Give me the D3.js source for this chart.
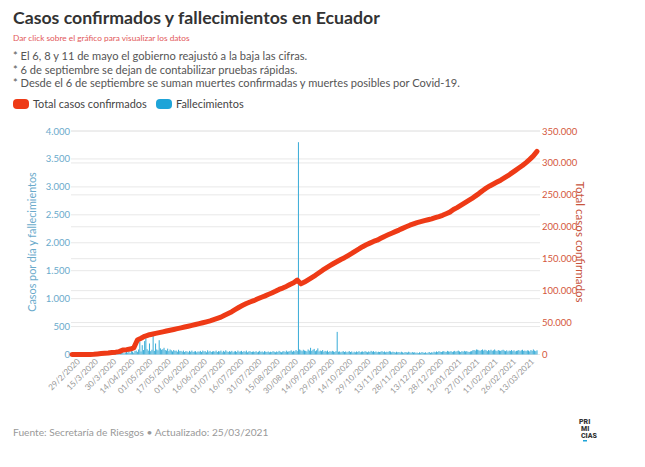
<!DOCTYPE html>
<html><head><meta charset="utf-8">
<script src="https://cdn.jsdelivr.net/npm/d3@7"></script>
<style>
html,body{margin:0;padding:0;background:#fff;}
svg{display:block;font-family:Lato, "Open Sans", sans-serif;}
</style></head>
<body><svg id="c" width="645" height="467"></svg>
<script>
// ---- DATA ----
const tickLabels = ["29/2/2020","15/3/2020","30/3/2020","14/04/2020","01/05/2020","17/05/2020","01/06/2020","16/06/2020","01/07/2020","16/07/2020","31/07/2020","15/08/2020","30/08/2020","14/09/2020","29/09/2020","14/10/2020","29/10/2020","13/11/2020","28/11/2020","13/12/2020","28/12/2020","12/01/2021","27/01/2021","11/02/2021","26/02/2021","13/03/2021"];
const tickEvery = 15;           // one label every 15 categories (days)
// daily deaths, one value per category (day)
const deaths = [
0,0,0,0,0,0,0,0,0,0,0,0,0,2,0,
2,0,1,2,0,2,1,6,9,4,8,10,17,5,28,
12,20,27,14,26,12,27,11,13,48,30,38,37,20,33,
45,35,60,26,67,53,31,62,70,48,90,226,55,167,80,
240,287,95,70,197,60,85,405,65,197,90,75,256,110,85,
95,120,80,70,105,60,90,75,55,80,65,70,50,85,60,
65,50,70,45,60,55,40,65,50,70,45,55,60,40,55,
50,65,45,70,55,60,40,75,50,65,45,55,60,50,70,
45,60,55,70,40,65,50,75,55,45,60,50,65,40,55,
60,45,70,50,55,65,45,60,50,70,40,55,60,45,50,
55,45,60,40,50,65,45,55,40,60,50,45,55,40,50,
45,60,50,40,55,45,65,50,40,55,60,45,70,50,55,
60,75,50,65,55,80,60,3800,90,75,60,85,70,65,55,
90,70,120,65,85,100,60,75,110,55,70,60,80,50,65,
55,70,45,60,50,65,55,45,60,405,50,55,40,50,60,
45,55,40,50,60,45,55,35,50,40,55,45,60,40,50,
55,45,60,50,40,55,45,65,50,60,45,55,40,50,45,
50,60,45,55,40,50,45,60,55,40,50,45,35,50,40,
45,35,50,40,30,45,40,35,50,40,30,45,35,40,30,
35,25,40,30,45,35,30,40,25,35,45,30,40,35,50,
40,55,45,60,50,45,55,60,50,45,65,55,50,60,45,
55,65,50,60,70,55,45,60,50,65,55,60,50,45,55,
60,75,80,70,90,85,75,65,80,90,70,85,75,60,80,
70,85,65,75,90,70,60,80,70,65,75,85,70,60,75,
55,70,65,80,60,75,55,65,70,80,60,75,85,65,70,
60,75,70,55,80,65,90,70,60,75];
// total confirmed cases, one reading every 3 categories (days)
const confirmedStep = 3;
const confirmed = [
0,10,15,17,20,35,260,790,1400,1900,
2300,3200,3700,4500,7200,7600,8500,10400,22700,25500,
28500,30500,31800,33000,34300,35500,36800,38000,39200,40500,
41700,43000,44300,45700,47000,48300,49700,51200,52800,54600,
56500,58500,61500,64200,67000,70500,74000,77000,79800,82200,
84300,86800,89300,91400,94000,96300,99000,101900,104000,106600,
109700,112400,116500,110600,113500,117000,120500,124000,128000,132000,
135500,139000,142500,145700,148800,151600,155000,158400,162000,165300,
168800,171800,174400,177000,179000,182000,184900,187400,189900,192400,
194800,197500,200000,202500,204500,206500,208000,209600,211000,212500,
214300,216000,218000,220500,223000,227000,230000,233500,237000,240500,
244000,248000,252000,256500,260500,264000,267000,270000,273000,276500,
280000,284000,288000,292000,296000,300500,305500,311000,318000];
const leftTicks = [0,500,1000,1500,2000,2500,3000,3500,4000];
const rightTicks = [0,50000,100000,150000,200000,250000,300000,350000];

// ---- CHART ----
const loc = d3.formatLocale({decimal:",", thousands:".", grouping:[3], currency:["$",""]});
const fmt = loc.format(",d");
const svg = d3.select("#c");
const N = deaths.length;
const x = d3.scaleLinear().domain([0, N-1]).range([72, 537]);
const yL = d3.scaleLinear().domain([0, 4000]).range([354.5, 131]);
const yR = d3.scaleLinear().domain([0, 350000]).range([354.5, 131]);
const gridL = 71, gridR = 540;

// title & notes
svg.append("text").attr("x",13).attr("y",24).attr("font-size",17.7).attr("font-weight",700)
  .attr("fill","#333").text("Casos confirmados y fallecimientos en Ecuador");
svg.append("text").attr("x",13).attr("y",41).attr("font-size",8.3).attr("fill","#e2575a")
  .text("Dar click sobre el gráfico para visualizar los datos");
const notes = ["* El 6, 8 y 11 de mayo el gobierno reajustó a la baja las cifras.",
  "* 6 de septiembre se dejan de contabilizar pruebas rápidas.",
  "* Desde el 6 de septiembre se suman muertes confirmadas y muertes posibles por Covid-19."];
notes.forEach((t,i)=>svg.append("text").attr("x",13).attr("y",60+i*13.5).attr("font-size",11.1)
  .attr("fill","#555").text(t));

// legend
const legend = [{name:"Total casos confirmados", color:"#ee3a16", x:13},{name:"Fallecimientos", color:"#1ea4d8", x:156}];
legend.forEach(l=>{
  svg.append("rect").attr("x",l.x).attr("y",99).attr("width",16).attr("height",10).attr("rx",4).attr("fill",l.color);
  svg.append("text").attr("x",l.x+20).attr("y",108).attr("font-size",10.9).attr("fill","#444").text(l.name);
});

// gridlines
const g = svg.append("g");
g.selectAll(".gl").data(leftTicks).join("line").attr("x1",gridL).attr("x2",gridR)
  .attr("y1",d=>yL(d)).attr("y2",d=>yL(d)).attr("stroke","#e8e8e8").attr("stroke-width",1);
g.selectAll(".gr").data(rightTicks).join("line").attr("x1",gridL).attr("x2",gridR)
  .attr("y1",d=>yR(d)).attr("y2",d=>yR(d)).attr("stroke","#e8e8e8").attr("stroke-width",1);

// axes
const axL = svg.append("g").attr("transform",`translate(${gridL-1},0)`)
  .call(d3.axisLeft(yL).tickValues(leftTicks).tickFormat(fmt).tickSize(0).tickPadding(0));
axL.select(".domain").remove();
axL.selectAll("text").attr("fill","#6aaacb").attr("font-size",9.5).attr("font-family","Lato, sans-serif");
const axR = svg.append("g").attr("transform",`translate(${gridR+2},0)`)
  .call(d3.axisRight(yR).tickValues(rightTicks).tickFormat(fmt).tickSize(0).tickPadding(0));
axR.select(".domain").remove();
axR.selectAll("text").attr("fill","#d4573c").attr("font-size",9.5).attr("font-family","Lato, sans-serif");

svg.append("text").attr("transform","translate(36,242) rotate(-90)").attr("text-anchor","middle")
  .attr("font-size",10.8).attr("fill","#6aaacb").text("Casos por día y fallecimientos");
svg.append("text").attr("transform","translate(576,242) rotate(90)").attr("text-anchor","middle")
  .attr("font-size",11.6).attr("fill","#c8553e").text("Total casos confirmados");

// x labels
const xt = svg.append("g").attr("transform","translate(0,358)")
  .call(d3.axisBottom(x).tickValues(tickLabels.map((d,i)=>i*tickEvery)).tickFormat((d,i)=>tickLabels[i]).tickSize(0).tickPadding(0));
xt.select(".domain").remove();
xt.selectAll("text").attr("fill","#999").attr("font-size",8.2).attr("font-family","Lato, sans-serif")
  .attr("text-anchor","end").attr("dy","0.7em").attr("transform","translate(4,0) rotate(-45)");

// bars
const bw = (x(1)-x(0))*0.85;
svg.append("g").selectAll("rect").data(deaths).join("rect")
  .attr("x",(d,i)=>x(i)-bw/2).attr("width",bw)
  .attr("y",d=>yL(d)).attr("height",d=>yL(0)-yL(d)).attr("fill","#3eaed8");

// confirmed line
const line = d3.line().x((d,i)=>x(i*confirmedStep)).y(d=>yR(d));
svg.append("path").datum(confirmed).attr("d",line).attr("fill","none")
  .attr("stroke","#ee3a16").attr("stroke-width",5).attr("stroke-linecap","round").attr("stroke-linejoin","round");

// footer
svg.append("text").attr("x",13).attr("y",436).attr("font-size",10.2).attr("fill","#999")
  .text("Fuente: Secretaría de Riesgos • Actualizado: 25/03/2021");
const logo = svg.append("g").attr("font-size",7).attr("font-weight",900).attr("fill","#333").attr("font-family","Roboto, sans-serif");
logo.append("text").attr("x",579).attr("y",424).text("PRI");
logo.append("text").attr("x",581).attr("y",431).text("MI");
logo.append("text").attr("x",581).attr("y",438).text("CIAS");
svg.append("rect").attr("x",583).attr("y",440).attr("width",4).attr("height",1.5).attr("fill","#1ea4d8");
</script></body></html>
